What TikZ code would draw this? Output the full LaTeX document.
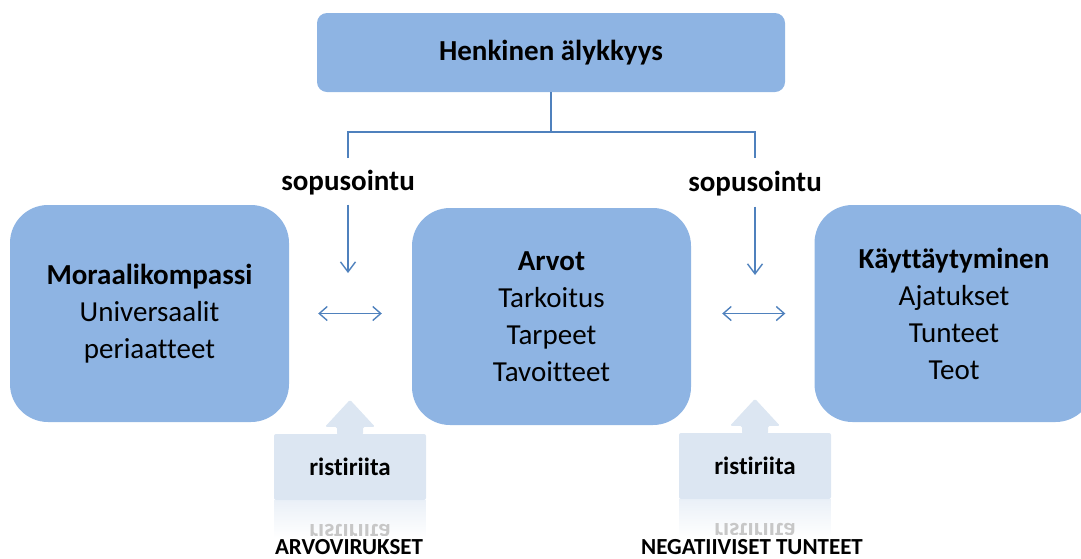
\documentclass[tikz,border=0pt]{standalone}
\usepackage{fontspec}
\setmainfont[Ligatures=NoCommon]{Carlito}
\usetikzlibrary{arrows.meta,fadings}
\definecolor{boxblue}{HTML}{8EB4E3}
\definecolor{lineblue}{HTML}{4F81BD}
\definecolor{paleblue}{HTML}{DCE6F2}
\tikzfading[name=reflectfade, top color=transparent!40, bottom color=transparent!100]
\tikzset{
  bigbox/.style={fill=boxblue, rounded corners=38pt, minimum width=279pt,
    minimum height=217pt, align=center, inner sep=0pt,
    font=\fontsize{29}{37}\selectfont},
  headbox/.style={fill=boxblue, rounded corners=10pt, minimum width=468pt,
    minimum height=79pt, font=\fontsize{29}{35}\selectfont\bfseries},
  conn/.style={draw=lineblue, line width=1.4pt},
  downarrow/.style={conn, -{Straight Barb[length=10pt,width=15pt,line width=1.4pt]}},
  bothways/.style={conn, {Straight Barb[length=8pt,width=14pt,line width=1.4pt]}-{Straight Barb[length=8pt,width=14pt,line width=1.4pt]}},
  harmony/.style={font=\fontsize{29}{35}\selectfont\bfseries, inner sep=0pt},
  conflict/.style={fill=paleblue, rounded corners=2pt, minimum width=152pt,
    minimum height=66pt, inner sep=0pt, font=\fontsize{25}{30}\selectfont\bfseries},
  mirrored/.style={yscale=-1, transform shape, inner sep=0pt, text=black!22,
    font=\fontsize{25}{30}\selectfont\bfseries},
  caption/.style={anchor=base, inner sep=0pt, font=\fontsize{23}{27}\selectfont\bfseries}
}
\begin{document}
\begin{tikzpicture}[x=1pt,y=-1pt]
\useasboundingbox (0,0) rectangle (1081,558);

% main boxes
\node[headbox] (top) at (551,52.5) {Henkinen älykkyys};
\node[bigbox] (left) at (149.5,313.5) {\textbf{Moraalikompassi}\\Universaalit\\periaatteet};
\node[bigbox] (mid) at (551.5,316.5) {\textbf{Arvot}\\Tarkoitus\\Tarpeet\\Tavoitteet};
\node[bigbox] (right) at (954,313.5) {\textbf{Käyttäytyminen}\\Ajatukset\\Tunteet\\Teot};

% harmony labels and the branching connector
\node[harmony] (sopL) at (348,183) {sopusointu};
\node[harmony] (sopR) at (755,184) {sopusointu};
\coordinate (hub) at (551,132);
\coordinate (tL) at (348,158);
\coordinate (tR) at (755,158);
\draw[conn] (top.south) -- (hub);
\draw[conn] (tL) |- (hub) -| (tR);
\coordinate (aL) at (348,273);
\coordinate (aR) at (755,275);
\draw[downarrow, shorten <=9pt] (sopL.south) -- (aL);
\draw[downarrow, shorten <=10pt] (sopR.south) -- (aR);

% two-way arrows between boxes
\draw[bothways, shorten <=29pt, shorten >=30pt] (left.east) -- (left.east -| mid.west);
\draw[bothways, shorten <=31pt, shorten >=29pt] (right.west -| mid.east) -- (right.west);

% conflict block arrows with their faded reflections
\foreach \n/\x/\y in {rL/350/467, rR/755/466} {
  \node[conflict] (\n) at (\x,\y) {ristiriita};
  \fill[paleblue, rounded corners=1.5pt, shift={(\n.north)}]
    (-13,1) -- (-13,-7) -- (-25,-7) -- (0,-34) -- (25,-7) -- (13,-7) -- (13,1) -- cycle;
  \fill[paleblue, path fading=reflectfade] (\n.south west) rectangle ++(152,38);
  \begin{scope}
    \clip (\n.south west) rectangle ++(152,35);
    \node[mirrored] at ([yshift=-66pt]\n.center) {ristiriita};
  \end{scope}
}

% captions
\node[caption] (capL) at (349,554) {ARVOVIRUKSET};
\node[caption] (capR) at (752,554) {NEGATIIVISET TUNTEET};
\end{tikzpicture}
\end{document}
